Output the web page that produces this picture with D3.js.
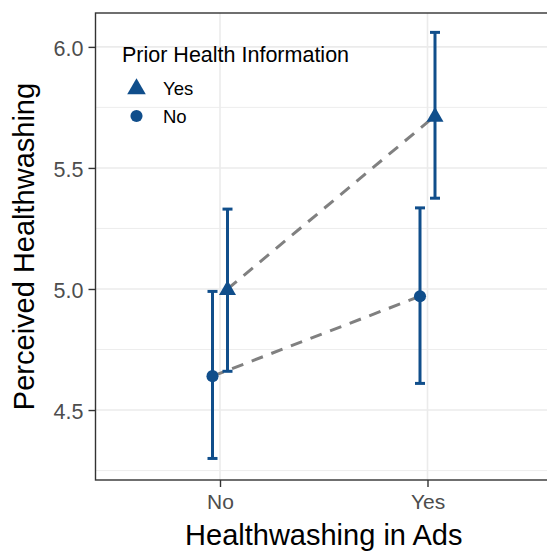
<!DOCTYPE html>
<html>
<head>
<meta charset="utf-8">
<script src="https://cdn.jsdelivr.net/npm/d3@7"></script>
<style>
  html, body { margin: 0; padding: 0; background: #ffffff; }
  svg { display: block; }
  text { font-family: "Liberation Sans", Arial, Helvetica, sans-serif; }
</style>
</head>
<body>
<svg id="chart" width="547" height="552"></svg>
<script>
// ---- data ----
const categories = ["No", "Yes"];            // Healthwashing in Ads
const groups = ["Yes", "No"];                // Prior Health Information
const meanYes = [5.00, 5.715];
const lowYes  = [4.66, 5.375];
const highYes = [5.33, 6.06];
const meanNo  = [4.64, 4.97];
const lowNo   = [4.30, 4.61];
const highNo  = [4.99, 5.335];
const yTicks = [4.5, 5.0, 5.5, 6.0];
const yMinor = [4.25, 4.75, 5.25, 5.75];
const xTitle = "Healthwashing in Ads";
const yTitle = "Perceived Healthwashing";
const legendTitle = "Prior Health Information";

// ---- layout ----
const svg = d3.select("#chart");
const panel = { left: 95.5, top: 13, right: 552, bottom: 480 };
const blue = "#104E8B";

const x = d3.scalePoint().domain(categories).range([panel.left, panel.right]).padding(0.6);
const y = d3.scaleLinear().domain([4.211, 6.140]).range([panel.bottom, panel.top]);
const dodge = d3.scaleOrdinal().domain(groups).range([7.5, -7.5]);

const series = [
  { group: "Yes", mean: meanYes, low: lowYes, high: highYes, shape: d3.symbolTriangle },
  { group: "No",  mean: meanNo,  low: lowNo,  high: highNo,  shape: d3.symbolCircle }
];

// panel background
svg.append("rect").attr("x", panel.left).attr("y", panel.top)
  .attr("width", panel.right - panel.left).attr("height", panel.bottom - panel.top)
  .attr("fill", "#ffffff");

const grid = svg.append("g");
grid.selectAll("line.minor").data(yMinor).join("line")
  .attr("x1", panel.left).attr("x2", panel.right)
  .attr("y1", d => y(d)).attr("y2", d => y(d))
  .attr("stroke", "#ebebeb").attr("stroke-width", 0.9);
grid.selectAll("line.major").data(yTicks).join("line")
  .attr("x1", panel.left).attr("x2", panel.right)
  .attr("y1", d => y(d)).attr("y2", d => y(d))
  .attr("stroke", "#ebebeb").attr("stroke-width", 1.6);
grid.selectAll("line.xmajor").data(categories).join("line")
  .attr("x1", d => x(d)).attr("x2", d => x(d))
  .attr("y1", panel.top).attr("y2", panel.bottom)
  .attr("stroke", "#ebebeb").attr("stroke-width", 1.6);

// dashed connecting lines
const line = d3.line().x(d => d[0]).y(d => d[1]);
series.forEach(s => {
  const pts = categories.map((c, i) => [x(c) + dodge(s.group), y(s.mean[i])]);
  svg.append("path").attr("d", line(pts))
    .attr("fill", "none").attr("stroke", "#808080")
    .attr("stroke-width", 3).attr("stroke-dasharray", "12,9");
});

// error bars and points
const capW = 5;
series.forEach(s => {
  const g = svg.append("g");
  categories.forEach((c, i) => {
    const cx = x(c) + dodge(s.group);
    g.append("line").attr("x1", cx).attr("x2", cx)
      .attr("y1", y(s.low[i])).attr("y2", y(s.high[i]))
      .attr("stroke", blue).attr("stroke-width", 3);
    [s.low[i], s.high[i]].forEach(v => {
      g.append("line").attr("x1", cx - capW).attr("x2", cx + capW)
        .attr("y1", y(v)).attr("y2", y(v))
        .attr("stroke", blue).attr("stroke-width", 3);
    });
    const size = s.shape === d3.symbolTriangle ? 125 : 115;
    g.append("path")
      .attr("d", d3.symbol().type(s.shape).size(size)())
      .attr("transform", `translate(${cx},${y(s.mean[i]) + (s.shape === d3.symbolTriangle ? 1 : 0)})`)
      .attr("fill", blue);
  });
});

// panel border
svg.append("rect").attr("x", panel.left).attr("y", panel.top)
  .attr("width", panel.right - panel.left).attr("height", panel.bottom - panel.top)
  .attr("fill", "none").attr("stroke", "#333333").attr("stroke-width", 1.4);

// y axis
const yAxis = svg.append("g").attr("transform", `translate(${panel.left},0)`)
  .call(d3.axisLeft(y).tickValues(yTicks).tickFormat(d3.format(".1f")).tickSize(7).tickPadding(5));
yAxis.select(".domain").remove();
yAxis.selectAll(".tick line").attr("stroke", "#333333").attr("stroke-width", 1.4);
yAxis.selectAll(".tick text").attr("fill", "#4d4d4d").attr("font-size", 21.5)
  .attr("font-family", "Liberation Sans, Arial, sans-serif").attr("dy", "0.4em");

// x axis
const xAxis = svg.append("g").attr("transform", `translate(0,${panel.bottom})`)
  .call(d3.axisBottom(x).tickSize(7).tickPadding(7));
xAxis.select(".domain").remove();
xAxis.selectAll(".tick line").attr("stroke", "#333333").attr("stroke-width", 1.4);
xAxis.selectAll(".tick text").attr("fill", "#4d4d4d").attr("font-size", 21)
  .attr("font-family", "Liberation Sans, Arial, sans-serif");

// titles
svg.append("text").attr("x", (panel.left + panel.right) / 2).attr("y", 545)
  .attr("text-anchor", "middle").attr("font-size", 29).attr("fill", "#000").text(xTitle);
svg.append("text")
  .attr("transform", `translate(34,${(panel.top + panel.bottom) / 2}) rotate(-90)`)
  .attr("text-anchor", "middle").attr("font-size", 29).attr("fill", "#000").text(yTitle);

// legend
const lg = svg.append("g");
lg.append("text").attr("x", 122).attr("y", 61.5).attr("font-size", 21.5).attr("fill", "#000").text(legendTitle);
const legendY = d3.scalePoint().domain(groups).range([88, 116]);
groups.forEach((gname, i) => {
  const s = series.find(d => d.group === gname);
  const size = s.shape === d3.symbolTriangle ? 150 : 115;
  lg.append("path").attr("d", d3.symbol().type(s.shape).size(size)())
    .attr("transform", `translate(136.5,${legendY(gname) + (s.shape === d3.symbolTriangle ? 1 : 0)})`)
    .attr("fill", blue);
  lg.append("text").attr("x", 163).attr("y", legendY(gname) + 7)
    .attr("font-size", 18.5).attr("fill", "#000").text(gname);
});
</script>
</body>
</html>
